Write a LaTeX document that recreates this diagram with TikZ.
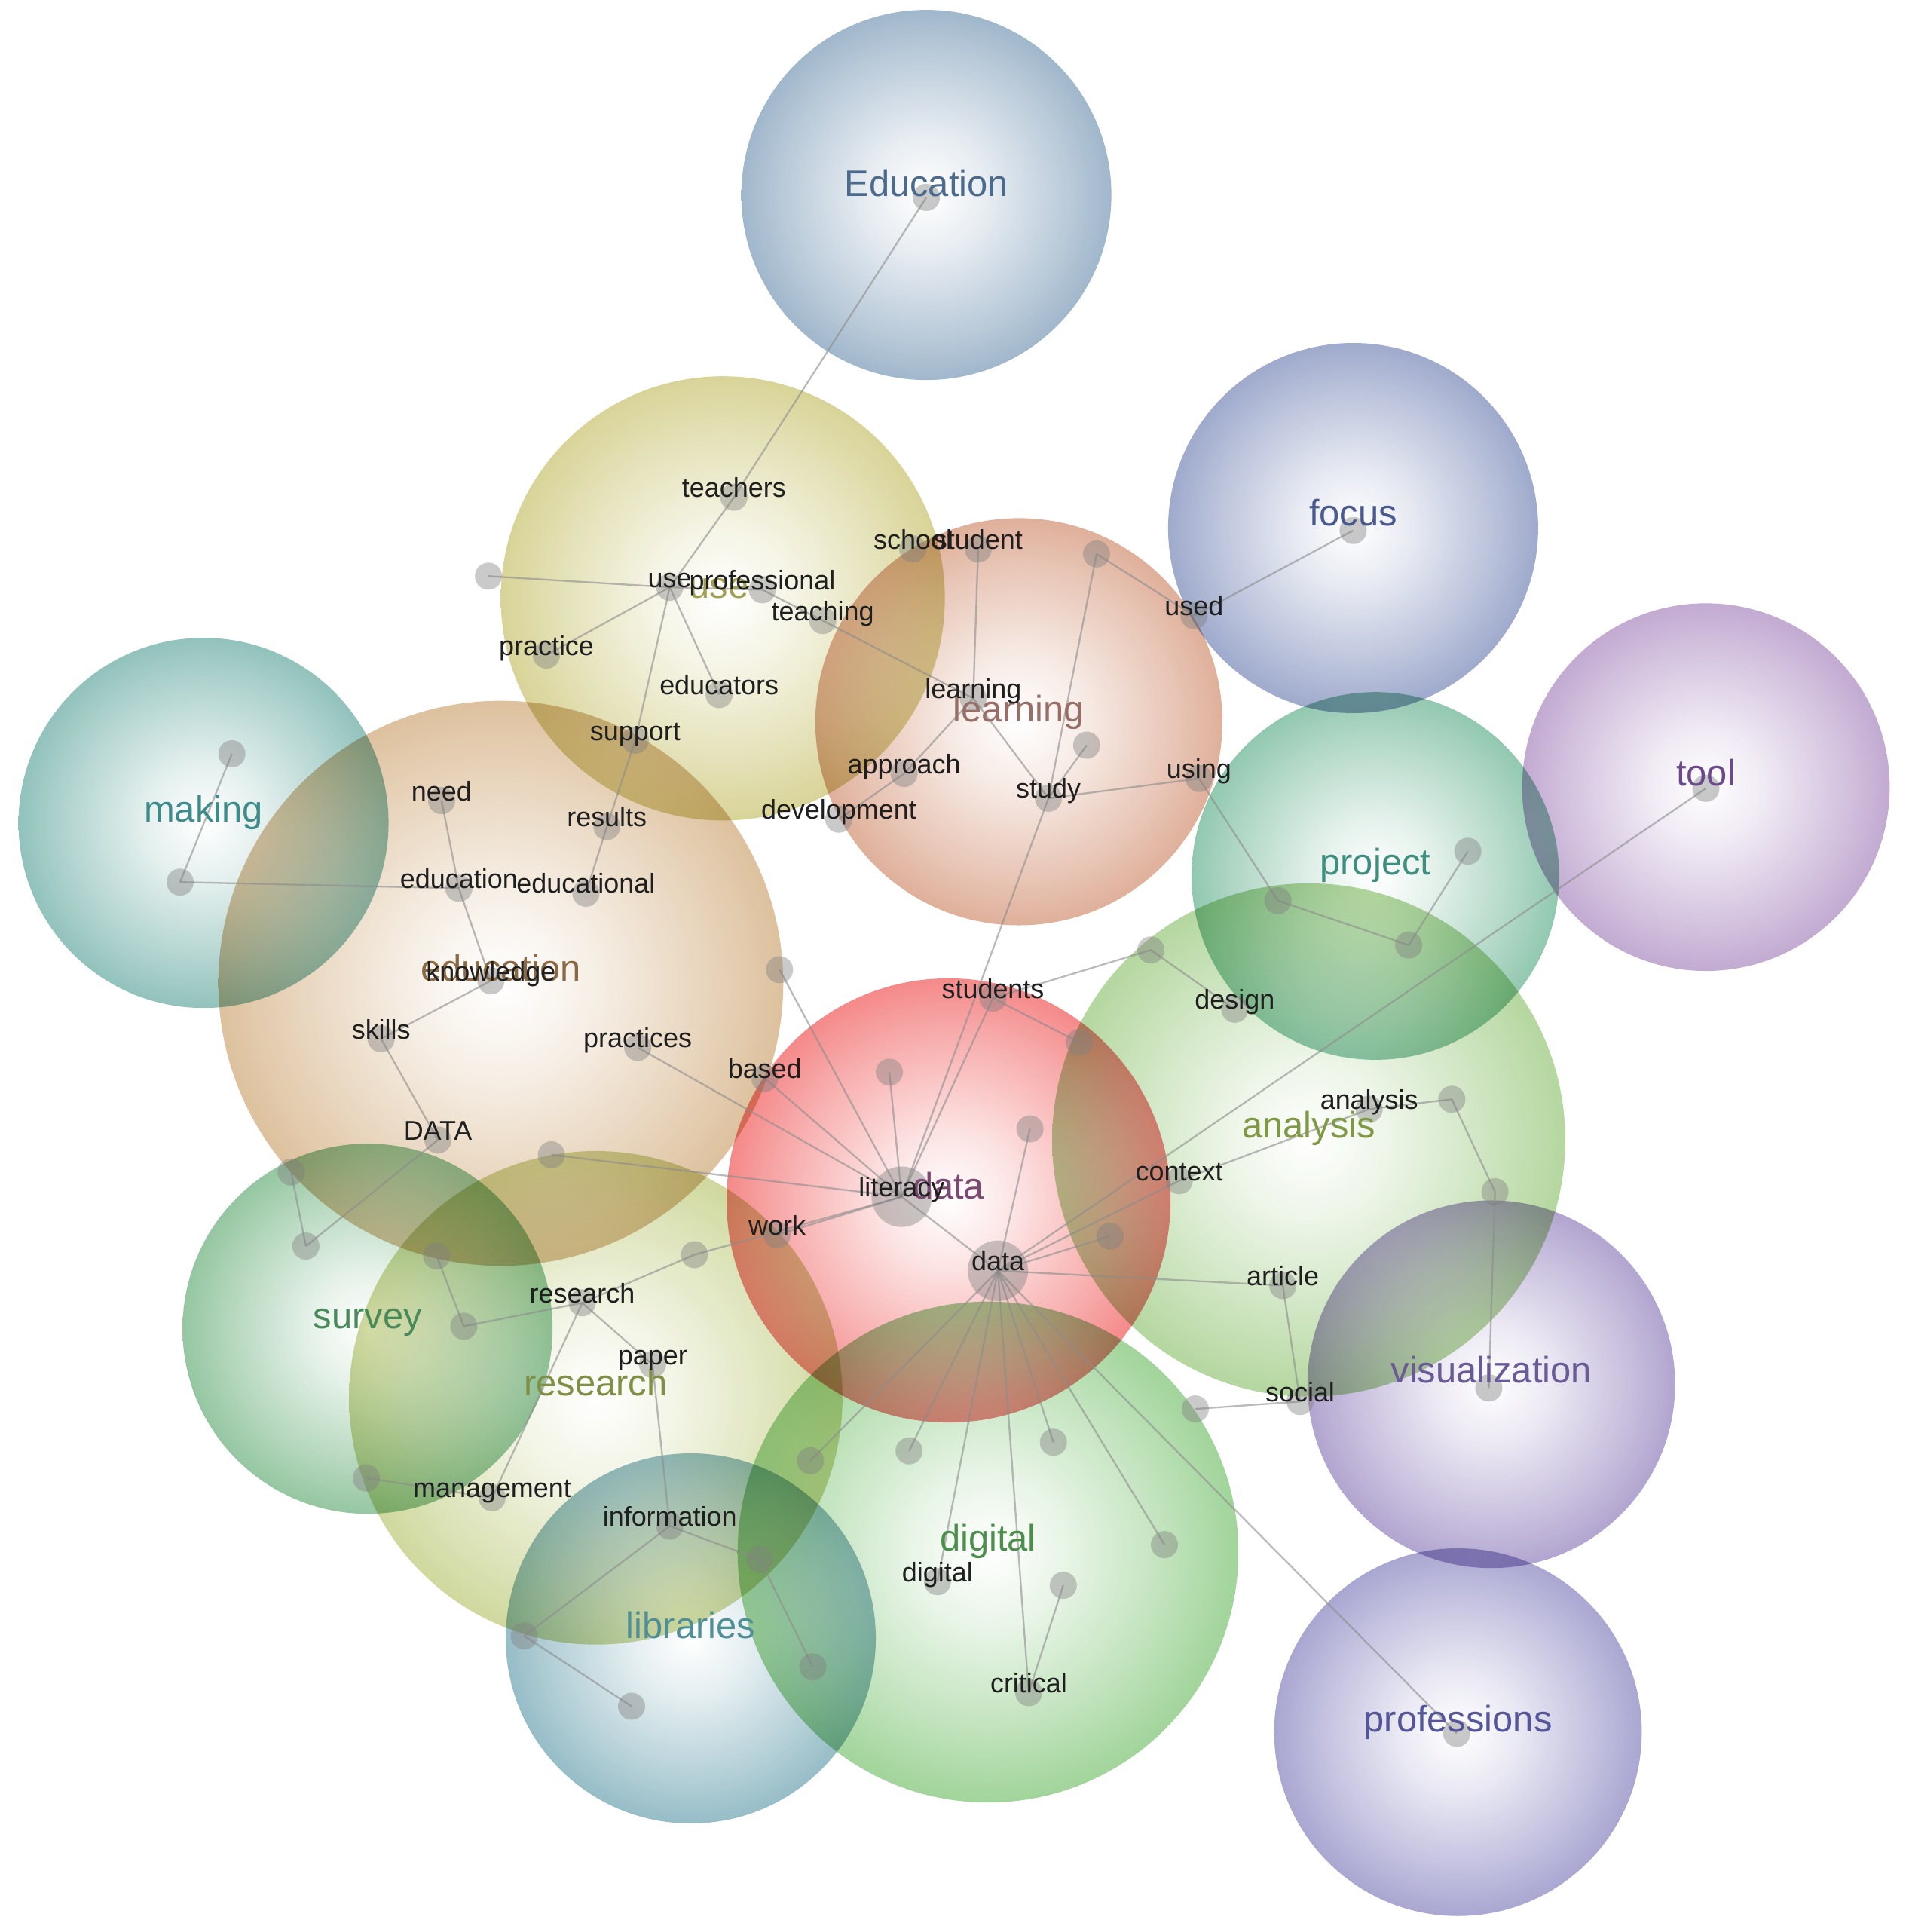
\documentclass[tikz,border=0pt]{standalone}
\usepackage{fontspec}
\setmainfont{Liberation Sans}
% sphere colours (rim tone) and label colours
\definecolor{cEdu}{RGB}{145,171,195}  \definecolor{tEdu}{RGB}{75,106,140}
\definecolor{cUse}{RGB}{210,205,135}  \definecolor{tUse}{RGB}{160,158,85}
\definecolor{cLrn}{RGB}{218,163,138}  \definecolor{tLrn}{RGB}{150,112,104}
\definecolor{cFoc}{RGB}{143,156,196}  \definecolor{tFoc}{RGB}{74,90,143}
\definecolor{cTool}{RGB}{184,156,202} \definecolor{tTool}{RGB}{106,74,138}
\definecolor{cProj}{RGB}{128,191,163} \definecolor{tProj}{RGB}{63,143,128}
\definecolor{cMak}{RGB}{128,184,177}  \definecolor{tMak}{RGB}{63,138,138}
\definecolor{cEduc}{RGB}{216,183,142} \definecolor{tEduc}{RGB}{138,106,69}
\definecolor{cAna}{RGB}{168,208,143}  \definecolor{tAna}{RGB}{127,154,69}
\definecolor{cData}{RGB}{243,118,118} \definecolor{tData}{RGB}{122,74,112}
\definecolor{cSur}{RGB}{132,189,146}  \definecolor{tSur}{RGB}{74,138,90}
\definecolor{cRes}{RGB}{200,210,142}  \definecolor{tRes}{RGB}{127,143,69}
\definecolor{cDig}{RGB}{146,205,138}  \definecolor{tDig}{RGB}{74,143,74}
\definecolor{cVis}{RGB}{165,150,200}  \definecolor{tVis}{RGB}{106,90,149}
\definecolor{cLib}{RGB}{133,178,190}  \definecolor{tLib}{RGB}{79,143,149}
\definecolor{cPro}{RGB}{155,152,202}  \definecolor{tPro}{RGB}{85,85,154}
\colorlet{bubcol}{gray}
\pgfdeclareradialshading[bubcol]{bubble}{\pgfpoint{0bp}{0bp}}{color(0bp)=(white); color(8bp)=(bubcol!25!white); color(19bp)=(bubcol!72!white); color(25bp)=(bubcol); color(50bp)=(bubcol)}
\begin{document}
\begin{tikzpicture}[x=0.02cm,y=-0.02cm,
	dot/.style={circle,fill=black!50,fill opacity=0.42,inner sep=0pt,minimum size=0.44cm},
	hub/.style={dot,minimum size=0.98cm},
	edge/.style={draw=black!45,opacity=0.6,line width=0.8pt},
	lbl/.style={font=\fontsize{12.5}{14}\selectfont,text=black!88,inner sep=0pt,anchor=base},
	big/.style={font=\fontsize{17}{19}\selectfont,inner sep=0pt,anchor=base}]
	\useasboundingbox (0,0) rectangle (1545,1566);
	% spheres
	\foreach \cx/\cy/\r/\c in {751/158/150/cEdu,586/485/180/cUse,826/585/165/cLrn,1097/428/150/cFoc,
		1383/638/149/cTool,1115/710/149/cProj,165/667/150/cMak,406/797/229/cEduc,1061/924/208/cAna,
		298/1077/150/cSur,483/1133/200/cRes,801/1258/203/cDig,1209/1122/149/cVis,560/1328/150/cLib,
		1182/1404/149/cPro,769/973/180/cData}{
		\colorlet{bubcol}{\c}
		\shade[shading=bubble,blend mode=multiply,opacity=0.86] (\cx,\cy) circle[radius=\r];
	}
	% term positions
	\foreach \n/\x/\y in {edu/751/160,teachers/595/403,use/543/476,prof/618/478,lone1/396/467,
		practice/443/531,educators/583/563,support/515/600,results/492/670,educational/475/724,
		teaching/667/503,school/740/445,student/793/445,lone2/889/449,used/968/499,focus/1097/430,
		learning/789/566,approach/733/627,development/680/664,lone3/881/604,study/850/647,
		using/972/631,tool/1383/639,proj1/1036/730,proj2/1142/766,proj3/1190/690,
		making1/188/611,making2/146/715,need/358/649,education/372/720,knowledge/398/795,
		skills/309/842,DATA/355/924,lone4/632/786,practices/517/849,based/620/874,lone5/721/869,
		lone6/835/915,students/805/809,lone7/875/845,design1/933/770,design/1001/818,
		literacy/731/970,data/809/1030,lone8/447/936,survey1/236/950,survey2/248/1010,
		survey3/354/1018,survey4/376/1075,lone9/563/1017,work/630/1001,research/472/1056,
		paper/529/1106,management/399/1214,lone10/297/1198,information/543/1237,
		lib1/616/1264,lib2/659/1351,lib3/425/1326,lib4/512/1383,dig1/657/1184,dig2/737/1176,
		digital/760/1282,critical/834/1372,dig3/862/1285,dig4/854/1169,dig5/944/1252,
		context/956/957,lone11/900/1002,analysis/1110/899,an1/1177/891,an2/1212/966,
		vis/1207/1125,article/1040/1042,social/1054/1136,soc1/969/1142,profs/1181/1405}
		\coordinate (\n) at (\x,\y);
	% links
	\foreach \a/\b in {edu/teachers,teachers/use,use/lone1,use/practice,use/educators,use/support,
		support/results,results/educational,use/prof,prof/teaching,teaching/learning,student/learning,
		learning/study,learning/approach,approach/development,study/lone2,lone2/used,used/focus,
		study/lone3,study/using,using/proj1,proj1/proj2,proj2/proj3,study/literacy,students/literacy,
		students/lone7,students/design1,design1/design,making1/making2,making2/education,
		need/education,education/knowledge,knowledge/skills,skills/DATA,DATA/survey2,survey1/survey2,
		survey3/survey4,survey4/research,research/lone9,lone9/literacy,work/literacy,research/paper,
		paper/information,research/management,lone10/management,information/lib1,lib1/lib2,
		information/lib3,lib3/lib4,lone4/literacy,practices/literacy,based/literacy,lone5/literacy,
		lone8/literacy,literacy/data,lone6/data,data/tool,data/context,context/analysis,data/lone11,
		data/article,article/social,social/soc1,analysis/an1,an1/an2,an2/vis,data/dig1,data/dig2,
		data/digital,data/critical,critical/dig3,data/dig4,data/dig5,data/profs}
		\draw[edge] (\a) -- (\b);
	% dots
	\foreach \n in {edu,teachers,use,prof,lone1,practice,educators,support,results,educational,
		teaching,school,student,lone2,used,focus,learning,approach,development,lone3,study,using,
		tool,proj1,proj2,proj3,making1,making2,need,education,knowledge,skills,DATA,lone4,
		practices,based,lone5,lone6,students,lone7,design1,design,lone8,survey1,survey2,survey3,
		survey4,lone9,work,research,paper,management,lone10,information,lib1,lib2,lib3,lib4,
		dig1,dig2,digital,critical,dig3,dig4,dig5,context,lone11,analysis,an1,an2,vis,article,
		social,soc1,profs}
		\node[dot] (\n-dot) at (\n) {};
	\node[hub] (literacy-dot) at (literacy) {};
	\node[hub] (data-dot) at (data) {};
	% cluster names
	\foreach \x/\y/\t/\c in {751/159/Education/tEdu,583/485/use/tUse,826/585/learning/tLrn,
		1097/426/focus/tFoc,1383/637/tool/tTool,1115/709/project/tProj,165/666/making/tMak,
		406/795/education/tEduc,1061/922/analysis/tAna,298/1077/survey/tSur,483/1131/research/tRes,
		801/1257/digital/tDig,1209/1121/visualization/tVis,560/1328/libraries/tLib,
		1182/1404/professions/tPro,769/972/data/tData}
		\node[big,text=\c] (\t-name) at (\x,\y) {\t};
	% term labels
	\foreach \n/\t in {teachers/teachers,use/use,prof/professional,practice/practice,
		educators/educators,support/support,results/results,educational/educational,
		teaching/teaching,school/school,student/student,used/used,learning/learning,
		approach/approach,development/development,study/study,using/using,need/need,
		education/education,knowledge/knowledge,skills/skills,DATA/DATA,practices/practices,
		based/based,students/students,design/design,literacy/literacy,data/data,work/work,
		research/research,paper/paper,management/management,information/information,
		digital/digital,critical/critical,context/context,analysis/analysis,article/article,
		social/social}
		\node[lbl] (\n-txt) at (\n) {\t};
\end{tikzpicture}
\end{document}
